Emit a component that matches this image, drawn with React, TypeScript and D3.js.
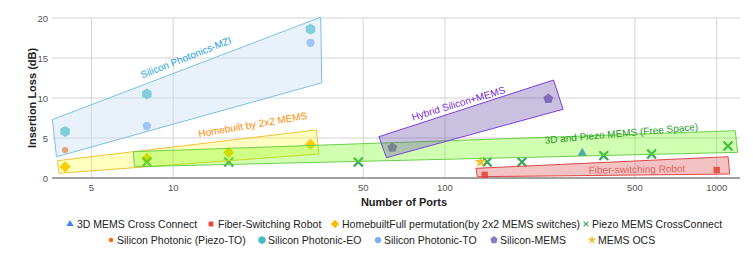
import React from 'react';
import * as d3 from 'd3';

type Pt = [number, number];

// measured points: [number of ports, insertion loss dB]
const mems3d: Pt[] = [[320, 3.1]];
const fiberRobot: Pt[] = [[140, 0.4], [1000, 1.0]];
const homebuilt: Pt[] = [[4, 1.4], [8, 2.45], [16, 3.2], [32, 4.2]];
const piezoMems: Pt[] = [[8, 2.0], [16, 2.0], [48, 2.0], [143, 2.0], [192, 2.0], [384, 2.8], [576, 3.0], [1100, 4.0]];
const siPiezoTO: Pt[] = [[4, 3.5]];
const siEO: Pt[] = [[4, 5.8], [8, 10.5], [32, 18.6]];
const siTO: Pt[] = [[8, 6.5], [32, 16.9]];
const siMems: Pt[] = [[64, 3.8], [240, 9.9]];
const memsOcs: Pt[] = [[135, 2.0]];

const yTicks = [0, 5, 10, 15, 20];
const xTicks = [5, 10, 50, 100, 500, 1000];

// grouping regions drawn over the points (data coordinates)
const mziRegion: Pt[] = [[3.59, 7.3], [34.9, 20.1], [35.2, 11.9], [3.72, 2.66]];
const homebuiltRegion: Pt[] = [[3.75, 2.16], [33.6, 6.0], [34.4, 3.0], [3.8, 0.59]];
const freeSpaceRegion: Pt[] = [[7.13, 3.29], [1170, 5.91], [1194, 3.21], [7.2, 1.41]];
const robotRegion: Pt[] = [[130, 1.21], [1101, 2.66], [1116, 0.5], [131.5, 0.16]];
const hybridRegion: Pt[] = [[57.1, 5.16], [251, 12.25], [272, 8.59], [60.9, 2.54]];

const series = [
  { name: '3D MEMS Cross Connect', data: mems3d, shape: 'triangle', color: '#4285f4' },
  { name: 'Fiber-Switching Robot', data: fiberRobot, shape: 'square', color: '#ea4335' },
  { name: 'HomebuiltFull permutation(by 2x2 MEMS switches)', data: homebuilt, shape: 'diamond', color: '#fbbc04' },
  { name: 'Piezo MEMS CrossConnect', data: piezoMems, shape: 'x', color: '#34a853' },
  { name: 'Silicon Photonic (Piezo-TO)', data: siPiezoTO, shape: 'smallcircle', color: '#ff6d01' },
  { name: 'Silicon Photonic-EO', data: siEO, shape: 'hexagon', color: '#46bdc6' },
  { name: 'Silicon Photonic-TO', data: siTO, shape: 'circle', color: '#7baaf7' },
  { name: 'Silicon-MEMS', data: siMems, shape: 'pentagon', color: '#8e7cc3' },
  { name: 'MEMS OCS', data: memsOcs, shape: 'star', color: '#f1c232' },
];

const regions = [
  { pts: mziRegion, fill: '#cfe2f3', opacity: 0.45, stroke: '#7cc0e8' },
  { pts: homebuiltRegion, fill: '#ffff00', opacity: 0.25, stroke: '#f1c232' },
  { pts: freeSpaceRegion, fill: '#66ff00', opacity: 0.3, stroke: '#6ccf4a' },
  { pts: robotRegion, fill: '#e06666', opacity: 0.4, stroke: '#e04848' },
  { pts: hybridRegion, fill: '#674ea7', opacity: 0.35, stroke: '#7c3fe0' },
];

const annotations = [
  { text: 'Silicon Photonics-MZI', at: [11.26, 14.66] as Pt, angle: -21.6, color: '#1fa3e3' },
  { text: 'Homebuilt by 2x2 MEMS', at: [19.7, 6.25] as Pt, angle: -9.6, color: '#ff8a00' },
  { text: 'Hybrid Silicon+MEMS', at: [113, 8.9] as Pt, angle: -16.6, color: '#7a2fe0' },
  { text: '3D and Piezo MEMS (Free Space)', at: [447, 5.15] as Pt, angle: -5.1, color: '#239a23' },
  { text: 'Fiber-switching Robot', at: [509, 0.65] as Pt, angle: -1, color: '#e06666' },
];

// legend placement (x of marker, x of text, row)
const legendLayout = [
  [70, 77, 0], [211, 218, 0], [335, 342, 0], [586, 592, 0],
  [111, 117, 1], [262, 268, 1], [378, 384, 1], [494, 500, 1], [592, 598, 1],
];

const W = 753;
const H = 258;

const polygon = (n: number, r: number, rot: number) =>
  'M' + d3.range(n).map(i => {
    const a = rot + (i * 2 * Math.PI) / n;
    return [r * Math.sin(a), -r * Math.cos(a)].join(',');
  }).join('L') + 'Z';

// thin diagonal cross, like the sheets "x" marker
function xPath(L: number, w: number) {
  const pts: Pt[] = [
    [-w, -L], [w, -L], [w, -w], [L, -w], [L, w], [w, w],
    [w, L], [-w, L], [-w, w], [-L, w], [-L, -w], [-w, -w],
  ];
  const c = Math.SQRT1_2;
  return 'M' + pts.map(([a, b]) => [(a - b) * c, (a + b) * c].join(',')).join('L') + 'Z';
}

function shapePath(shape: string, s: number): string {
  switch (shape) {
    case 'triangle': return polygon(3, 5.5 * s, 0);
    case 'square': return `M${-3.2 * s},${-3.2 * s}h${6.4 * s}v${6.4 * s}h${-6.4 * s}Z`;
    case 'diamond': return polygon(4, 5.6 * s, 0);
    case 'x': return xPath(6.2 * s, 1.1 * s);
    case 'smallcircle': return d3.symbol(d3.symbolCircle, 30 * s * s)()!;
    case 'circle': return d3.symbol(d3.symbolCircle, 54 * s * s)()!;
    case 'hexagon': return polygon(6, 5.5 * s, 0);
    case 'pentagon': return polygon(5, 5.2 * s, 0);
    case 'star': return d3.symbol(d3.symbolStar, 44 * s * s)()!;
    default: return '';
  }
}

export default function App() {
  const x = d3.scaleLog().domain([3.58, 1218]).range([52, 740]);
  const y = d3.scaleLinear().domain([0, 20]).range([178, 18]);
  const line = d3.line<Pt>().x(d => x(d[0])).y(d => y(d[1]));

  return (
    <svg width={W} height={H} style={{ position: 'absolute', left: 0, top: 0, background: '#fff' }}
      fontFamily="'Liberation Sans', Arial, sans-serif">
      {yTicks.filter(t => t > 0).map(t => (
        <line key={'gy' + t} x1={x.range()[0]} x2={x.range()[1]} y1={y(t)} y2={y(t)} stroke="#d4d4d4" strokeWidth={1.2} />
      ))}
      {xTicks.map(t => (
        <line key={'gx' + t} x1={x(t)} x2={x(t)} y1={y(20)} y2={y(0)} stroke="#d4d4d4" strokeWidth={1} />
      ))}
      <line x1={x.range()[0]} x2={x.range()[1]} y1={y(0)} y2={y(0)} stroke="#444" strokeWidth={1} />
      {yTicks.map(t => (
        <text key={'ty' + t} x={48} y={y(t) + 3.5} textAnchor="end" fontSize={9.5} fill="#555">{t}</text>
      ))}
      {xTicks.map(t => (
        <text key={'tx' + t} x={x(t)} y={191} textAnchor="middle" fontSize={9.5} fill="#555">{t}</text>
      ))}
      <text transform={`translate(36,${y(10)}) rotate(-90)`} textAnchor="middle" fontSize={11} fontWeight="bold" fill="#222">Insertion Loss (dB)</text>
      <text x={404} y={206} textAnchor="middle" fontSize={11} fontWeight="bold" fill="#222">Number of Ports</text>

      {series.map(s => s.data.map((d, i) => (
        <path key={s.name + i} d={shapePath(s.shape, 1)}
          transform={`translate(${x(d[0])},${y(d[1])})`} fill={s.color} />
      )))}

      {regions.map((r, i) => (
        <path key={'r' + i} d={line(r.pts)! + 'Z'} fill={r.fill} fillOpacity={r.opacity} stroke={r.stroke} strokeWidth={1} />
      ))}

      {annotations.map(a => (
        <text key={a.text} transform={`translate(${x(a.at[0])},${y(a.at[1])}) rotate(${a.angle})`}
          textAnchor="middle" fontSize={10} fill={a.color}>{a.text}</text>
      ))}

      {series.map((s, i) => {
        const [mx, tx, row] = legendLayout[i];
        const ly = row === 0 ? 224 : 240;
        return (
          <g key={'lg' + i}>
            <path d={shapePath(s.shape, s.shape === 'x' ? 0.55 : 0.75)} transform={`translate(${mx},${ly})`} fill={s.color} />
            <text x={tx} y={ly + 3.6} fontSize={10.5} fill="#222">{s.name}</text>
          </g>
        );
      })}
    </svg>
  );
}
